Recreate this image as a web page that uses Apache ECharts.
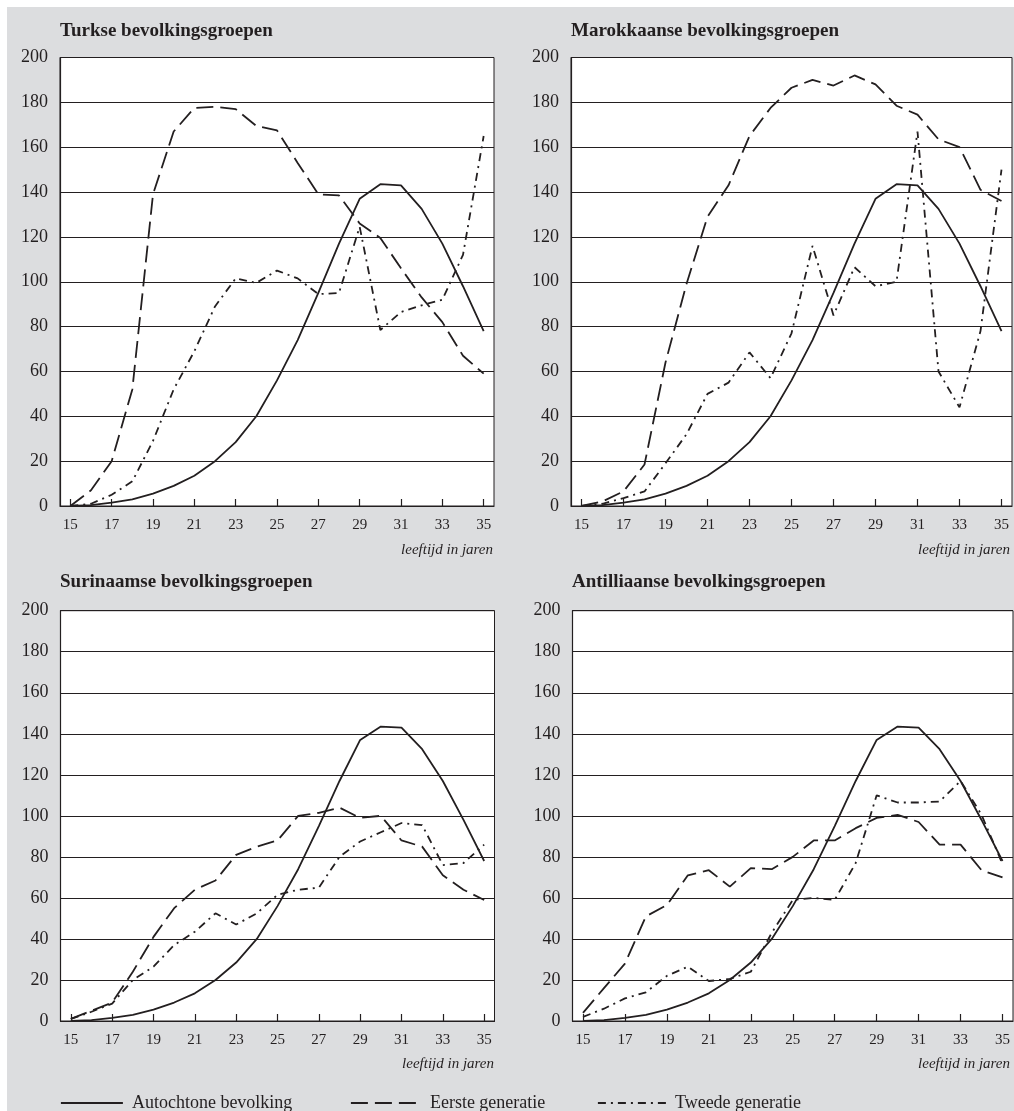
<!DOCTYPE html>
<html>
<head>
<meta charset="utf-8">
<script src="https://cdn.jsdelivr.net/npm/echarts@6/dist/echarts.min.js"></script>
<style>
html,body{margin:0;padding:0;background:#fff;}
#chart{width:1014px;height:1111px;}
</style>
</head>
<body>
<div id="chart"></div>
<script>
// ---- data ----
var ages = ['15','16','17','18','19','20','21','22','23','24','25','26','27','28','29','30','31','32','33','34','35'];
var panelTitles = ['Turkse bevolkingsgroepen','Marokkaanse bevolkingsgroepen','Surinaamse bevolkingsgroepen','Antilliaanse bevolkingsgroepen'];
var seriesNames = ['Autochtone bevolking','Eerste generatie','Tweede generatie'];
var axisName = 'leeftijd in jaren';

var autochtoon = [0, 0.4, 1.5, 3, 5.5, 9, 13.5, 20, 28.5, 40, 56, 74, 95, 117, 137, 143.5, 143, 132.5, 117, 98, 78];

var turksEerste = [0, 7, 20, 52, 139, 167, 177.5, 178, 177, 169.5, 167.5, 153, 139, 138.5, 126, 119.5, 106, 93, 82, 67, 59];
var turksTweede = [0, 1, 5, 11, 29, 52, 69, 89, 101.5, 99.5, 105, 101.5, 94.5, 95, 124.5, 78.5, 86.5, 89.5, 92, 112, 165];

var marokEerste = [0, 2, 6.5, 18.5, 64, 99, 129, 143, 165, 177.5, 186.5, 190, 187.5, 192, 188, 178.5, 174.5, 163.5, 160, 141, 136];
var marokTweede = [0, 1, 3.5, 6.5, 19, 32, 50, 55, 68.5, 57, 77, 116, 85, 106.5, 98, 100, 167, 60, 44, 78, 150];

var surEerste = [1, 5, 9, 24, 41, 55, 64, 68.5, 81, 85, 88, 100, 101.5, 104, 99, 100, 88, 85, 71, 64, 59];
var surTweede = [1, 4.5, 8.5, 20, 26.5, 37, 43.5, 52.5, 47, 52.5, 61.5, 64, 65, 80, 87.5, 92, 96.5, 95.5, 76, 77, 86];

var antEerste = [4, 16, 28, 51, 56.5, 71, 73.5, 65.5, 74.5, 74, 80, 88, 88, 94, 99, 100.5, 97, 86, 86, 73.5, 70];
var antTweede = [2, 6, 11, 14, 22, 26.5, 19.5, 20.5, 24, 43, 59, 60, 59, 77, 110, 106.5, 106.5, 107, 117, 100.5, 76.5];

var eersteSets = [turksEerste, marokEerste, surEerste, antEerste];
var tweedeSets = [turksTweede, marokTweede, surTweede, antTweede];

// ---- layout ----
var INK = '#231f20';
var FONT = "'Liberation Serif', 'DejaVu Serif', serif";
var grids = [
  {left: 60, top: 57.5, width: 434, height: 448.5},
  {left: 571, top: 57.5, width: 441, height: 448.5},
  {left: 60.5, top: 610.7, width: 434, height: 410.3},
  {left: 572.5, top: 610.7, width: 440.5, height: 410.3}
];
var titlePos = [
  {left: 60, top: 22}, {left: 571, top: 22}, {left: 60, top: 573}, {left: 572, top: 573}
];
var namePos = [
  {right: 521, top: 543}, {right: 4, top: 543}, {right: 520, top: 1057}, {right: 4, top: 1057}
];
var legendLeft = [60, 350, 597];
var legendIconWidth = [62, 70, 68];
var dashTypes = ['solid', [17, 7], [8, 5, 2, 5]];

var option = {
  backgroundColor: '#ffffff',
  animation: false,
  graphic: [{type: 'rect', z: -10, silent: true, shape: {x: 7, y: 7, width: 1007, height: 1104}, style: {fill: '#dcdddf'}}],
  title: [],
  grid: [],
  xAxis: [],
  yAxis: [],
  series: [],
  legend: []
};

for (var k = 0; k < 3; k++) {
  option.legend.push({left: legendLeft[k], top: 1094, padding: 0, itemWidth: legendIconWidth[k], itemHeight: 14, itemGap: 0,
    data: [seriesNames[k]], selectedMode: false,
    itemStyle: {opacity: 0, borderWidth: 0},
    lineStyle: {color: INK, width: 1.8},
    textStyle: {fontFamily: FONT, fontSize: 18, color: INK, padding: [0, 0, 0, 4]}});
}

for (var i = 0; i < 4; i++) {
  option.title.push({text: panelTitles[i], left: titlePos[i].left, top: titlePos[i].top, padding: 0,
    textStyle: {fontFamily: FONT, fontWeight: 'bold', fontSize: 19, color: INK}});
  option.title.push({text: axisName, right: namePos[i].right, top: namePos[i].top, padding: 0,
    textStyle: {fontFamily: FONT, fontStyle: 'italic', fontWeight: 'normal', fontSize: 15, color: INK}});
  var g = grids[i];
  option.grid.push({left: g.left, top: g.top, width: g.width, height: g.height, show: true,
    backgroundColor: '#ffffff', borderColor: INK, borderWidth: 1, containLabel: false, outerBoundsMode: 'none'});
  option.xAxis.push({type: 'category', gridIndex: i, data: ages, boundaryGap: true,
    axisLine: {show: true, lineStyle: {color: INK, width: 1.2}},
    axisTick: {show: true, inside: true, length: 7, interval: 1, alignWithLabel: true, lineStyle: {color: INK, width: 1.2}},
    axisLabel: {interval: 1, margin: 12, fontFamily: FONT, fontSize: 15, color: INK},
    splitLine: {show: false}});
  option.yAxis.push({type: 'value', gridIndex: i, min: 0, max: 200, interval: 20,
    axisLine: {show: true, lineStyle: {color: INK, width: 1.2}},
    axisTick: {show: false},
    axisLabel: {margin: 12, fontFamily: FONT, fontSize: 18, color: INK},
    splitLine: {show: true, lineStyle: {color: INK, width: 1}}});
  var sets = [autochtoon, eersteSets[i], tweedeSets[i]];
  for (var s = 0; s < 3; s++) {
    option.series.push({name: seriesNames[s], type: 'line', xAxisIndex: i, yAxisIndex: i, data: sets[s],
      symbol: 'none', showSymbol: false,
      lineStyle: {color: INK, width: 1.8, type: dashTypes[s]}, itemStyle: {color: INK}});
  }
}

var chart = echarts.init(document.getElementById('chart'), null, {renderer: 'canvas'});
chart.setOption(option);
</script>
</body>
</html>
